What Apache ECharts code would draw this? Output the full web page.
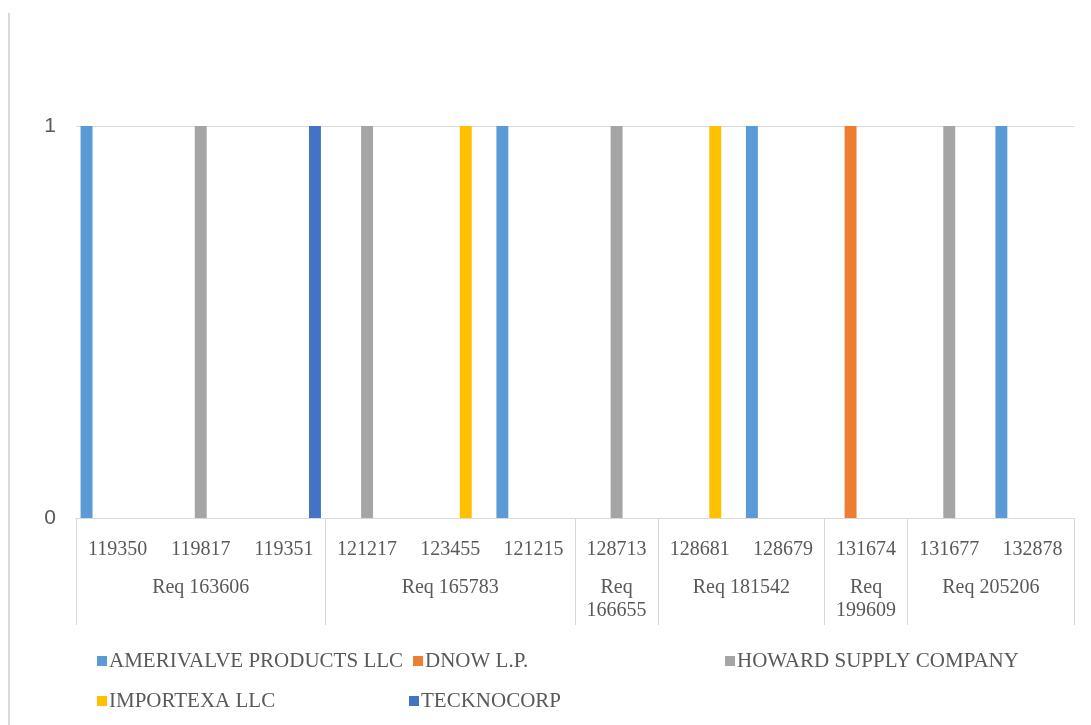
<!DOCTYPE html>
<html>
<head>
<meta charset="utf-8">
<script src="https://cdn.jsdelivr.net/npm/echarts@6/dist/echarts.min.js"></script>
<style>html,body{margin:0;padding:0;background:#fff;}#c{width:1091px;height:725px;}</style>
</head>
<body>
<div id="c"></div>
<script>
// Sub-categories (PO numbers) and their parent groups (requisitions)
const subCategories = ['119350','119817','119351','121217','123455','121215','128713','128681','128679','131674','131677','132878'];
const groupNames = ['Req 163606','Req 165783','Req 166655','Req 181542','Req 199609','Req 205206'];
const groupSizes = [3, 3, 1, 2, 1, 2];

const seriesNames = ['AMERIVALVE PRODUCTS LLC','DNOW L.P.','HOWARD SUPPLY COMPANY','IMPORTEXA LLC','TECKNOCORP'];
const amerivalve = [1,0,0,0,0,1,0,0,1,0,0,1];
const dnow       = [0,0,0,0,0,0,0,0,0,1,0,0];
const howard     = [0,1,0,1,0,0,1,0,0,0,1,0];
const importexa  = [0,0,0,0,1,0,0,1,0,0,0,0];
const tecknocorp = [0,0,1,0,0,0,0,0,0,0,0,0];
const seriesValues = [amerivalve, dnow, howard, importexa, tecknocorp];
const colors = ['#5B9BD5','#ED7D31','#A5A5A5','#FFC000','#4472C4'];

const yTicks = [0, 1];

// group boundaries / centers on a 0..N scale
const bounds = [0];
groupSizes.forEach(s => bounds.push(bounds[bounds.length-1] + s));
const centers = groupSizes.map((s, i) => bounds[i] + s / 2);

const serif = 'Liberation Serif';
const txt = '#595959';
const lineC = '#d9d9d9';

const chart = echarts.init(document.getElementById('c'), null, {renderer: 'canvas'});
chart.setOption({
  animation: false,
  color: colors,
  textStyle: {fontFamily: serif},
  grid: {left: 76, right: 17, top: 126, bottom: 207, containLabel: false},
  graphic: [{
    type: 'line', shape: {x1: 9, y1: 13, x2: 9, y2: 725},
    style: {stroke: lineC, lineWidth: 2}
  }],
  legend: {
    data: seriesNames,
    left: 92, top: 641, width: 960,
    orient: 'horizontal',
    itemWidth: 10, itemHeight: 10, itemGap: 10,
    icon: 'rect',
    textStyle: {fontFamily: serif, fontSize: 21, color: txt, width: 290, lineHeight: 30, padding: [0,0,0,-3]}
  },
  xAxis: [{
    type: 'category',
    data: subCategories,
    position: 'bottom',
    axisLine: {show: true, lineStyle: {color: lineC, width: 1}},
    axisTick: {show: false},
    axisLabel: {fontFamily: serif, fontSize: 20, color: txt, margin: 22, lineHeight: 20, interval: 0},
    splitLine: {show: false}
  }, {
    type: 'value',
    min: 0, max: subCategories.length,
    position: 'bottom',
    axisLine: {show: false},
    axisTick: {show: true, customValues: bounds, length: 107, lineStyle: {color: lineC, width: 1}},
    axisLabel: {
      show: true, customValues: centers, margin: 58, lineHeight: 23,
      fontFamily: serif, fontSize: 20, color: txt,
      formatter: function (v) {
        const i = centers.indexOf(v);
        if (i < 0) return '';
        return groupSizes[i] === 1 ? groupNames[i].replace(' ', '\n') : groupNames[i];
      },
      verticalAlign: 'top'
    },
    splitLine: {show: false}
  }],
  yAxis: {
    type: 'value', min: yTicks[0], max: yTicks[yTicks.length-1], interval: 1,
    axisLine: {show: false}, axisTick: {show: false},
    axisLabel: {fontFamily: 'Liberation Sans', fontSize: 21, color: txt, margin: 20},
    splitLine: {show: true, lineStyle: {color: lineC, width: 1}}
  },
  series: seriesNames.map((n, i) => ({
    name: n, type: 'bar', xAxisIndex: 0,
    data: seriesValues[i],
    barGap: '30%', barCategoryGap: '11%',
    itemStyle: {color: colors[i]}
  }))
});
</script>
</body>
</html>
